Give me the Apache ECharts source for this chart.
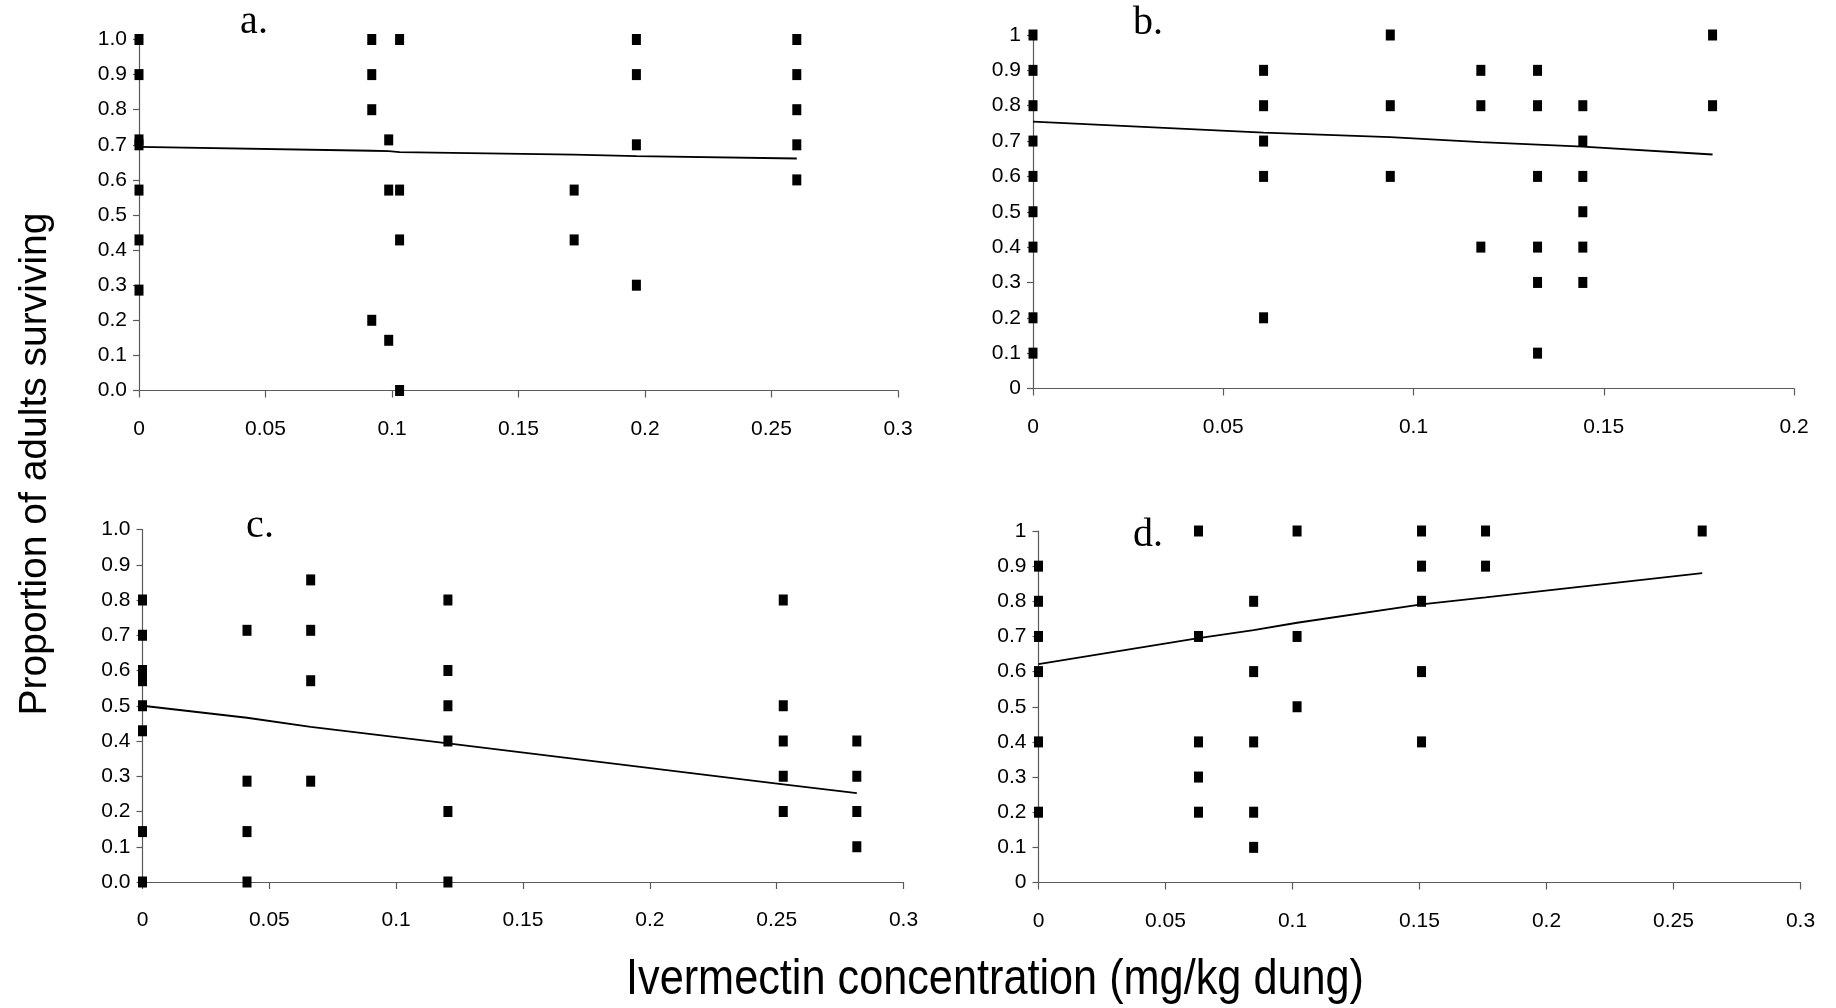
<!DOCTYPE html>
<html>
<head>
<meta charset="utf-8">
<script src="https://cdn.jsdelivr.net/npm/echarts@6/dist/echarts.min.js"></script>
<style>
  html, body { margin: 0; padding: 0; background: #fff; }
  #chart { width: 1836px; height: 1008px; }
</style>
</head>
<body>
<div id="chart"></div>
<script>
// 各面板的数据：浓度(x) 与 存活比例(y)
var concA = [0, 0, 0, 0, 0, 0, 0, 0.092, 0.092, 0.092, 0.092, 0.0987, 0.0987, 0.0987, 0.103, 0.103, 0.103, 0.103, 0.172, 0.172, 0.1966, 0.1966, 0.1966, 0.1966, 0.26, 0.26, 0.26, 0.26, 0.26];
var survA = [1.0, 0.9, 0.714, 0.70, 0.571, 0.429, 0.286, 1.0, 0.9, 0.8, 0.2, 0.714, 0.571, 0.143, 1.0, 0.571, 0.429, 0.0, 0.571, 0.429, 1.0, 0.9, 0.7, 0.3, 1.0, 0.9, 0.8, 0.7, 0.6];
var fitXA = [0, 0.092, 0.0987, 0.103, 0.172, 0.1966, 0.26];
var fitYA = [0.694, 0.683, 0.682, 0.679, 0.672, 0.668, 0.661];

var concB = [0, 0, 0, 0, 0, 0, 0, 0, 0, 0.0606, 0.0606, 0.0606, 0.0606, 0.0606, 0.0939, 0.0939, 0.0939, 0.1177, 0.1177, 0.1177, 0.1326, 0.1326, 0.1326, 0.1326, 0.1326, 0.1326, 0.1445, 0.1445, 0.1445, 0.1445, 0.1445, 0.1445, 0.1786, 0.1786];
var survB = [1, 0.9, 0.8, 0.7, 0.6, 0.5, 0.4, 0.2, 0.1, 0.9, 0.8, 0.7, 0.6, 0.2, 1, 0.8, 0.6, 0.9, 0.8, 0.4, 0.9, 0.8, 0.6, 0.4, 0.3, 0.1, 0.8, 0.7, 0.6, 0.5, 0.4, 0.3, 1, 0.8];
var fitXB = [0, 0.0606, 0.0939, 0.1177, 0.1326, 0.1445, 0.1786];
var fitYB = [0.755, 0.724, 0.711, 0.697, 0.690, 0.684, 0.662];

var concC = [0, 0, 0, 0, 0, 0, 0, 0, 0.0412, 0.0412, 0.0412, 0.0412, 0.0663, 0.0663, 0.0663, 0.0663, 0.1204, 0.1204, 0.1204, 0.1204, 0.1204, 0.1204, 0.2526, 0.2526, 0.2526, 0.2526, 0.2526, 0.2816, 0.2816, 0.2816, 0.2816];
var survC = [0.8, 0.7, 0.6, 0.571, 0.5, 0.429, 0.143, 0.0, 0.714, 0.286, 0.143, 0.0, 0.857, 0.714, 0.571, 0.286, 0.8, 0.6, 0.5, 0.4, 0.2, 0.0, 0.8, 0.5, 0.4, 0.3, 0.2, 0.4, 0.3, 0.2, 0.1];
var fitXC = [0, 0.0412, 0.0663, 0.1204, 0.2526, 0.2816];
var fitYC = [0.500, 0.466, 0.440, 0.393, 0.277, 0.252];

var concD = [0, 0, 0, 0, 0, 0, 0.063, 0.063, 0.063, 0.063, 0.063, 0.0847, 0.0847, 0.0847, 0.0847, 0.0847, 0.1018, 0.1018, 0.1018, 0.1508, 0.1508, 0.1508, 0.1508, 0.1508, 0.176, 0.176, 0.2613];
var survD = [0.9, 0.8, 0.7, 0.6, 0.4, 0.2, 1, 0.7, 0.4, 0.3, 0.2, 0.8, 0.6, 0.4, 0.2, 0.1, 1, 0.7, 0.5, 1, 0.9, 0.8, 0.6, 0.4, 1, 0.9, 1];
var fitXD = [0, 0.063, 0.0847, 0.1018, 0.1508, 0.176, 0.2613];
var fitYD = [0.621, 0.695, 0.718, 0.739, 0.791, 0.811, 0.880];

var panelLetters = ['a.', 'b.', 'c.', 'd.'];
var xMaxes = [0.3, 0.2, 0.3, 0.3];
var yOneDecimal = [true, false, true, false];

function zip(xs, ys) {
    return xs.map(function (x, i) { return [x, ys[i]]; });
}

var myChart = echarts.init(document.getElementById('chart'));

var grids = [
    { left: 139, top: 39.5, width: 759, height: 351 },
    { left: 1033, top: 35, width: 761, height: 353.5 },
    { left: 142.5, top: 529.5, width: 761, height: 352.5 },
    { left: 1038.5, top: 531, width: 762, height: 351.5 }
];

var axisColor = '#5a5a5a';
var labelFont = { color: '#000', fontFamily: 'Liberation Sans, Arial', fontSize: 21 };

var xAxes = grids.map(function (g, i) {
    return {
        type: 'value', gridIndex: i, min: 0, max: xMaxes[i], interval: 0.05,
        splitLine: { show: false },
        axisLine: { lineStyle: { color: axisColor, width: 1.2 } },
        axisTick: { length: 7, lineStyle: { color: axisColor, width: 1.2 } },
        axisLabel: Object.assign({ margin: 28 }, labelFont)
    };
});
var yAxes = grids.map(function (g, i) {
    return {
        type: 'value', gridIndex: i, min: 0, max: 1, interval: 0.1,
        splitLine: { show: false },
        axisLine: { show: true, lineStyle: { color: axisColor, width: 1.2 } },
        axisTick: { show: true, length: 6, lineStyle: { color: axisColor, width: 1.2 } },
        axisLabel: Object.assign({
            margin: 12,
            formatter: function (v) {
                return yOneDecimal[i] ? v.toFixed(1) : String(+v.toFixed(1));
            }
        }, labelFont)
    };
});

var pointSets = [zip(concA, survA), zip(concB, survB), zip(concC, survC), zip(concD, survD)];
var fitSets = [zip(fitXA, fitYA), zip(fitXB, fitYB), zip(fitXC, fitYC), zip(fitXD, fitYD)];

var series = [];
pointSets.forEach(function (pts, i) {
    series.push({
        type: 'scatter', xAxisIndex: i, yAxisIndex: i, data: pts,
        symbol: 'rect', symbolSize: [9, 11],
        itemStyle: { color: '#000', opacity: 1 }, clip: false, z: 3
    });
    series.push({
        type: 'line', xAxisIndex: i, yAxisIndex: i, data: fitSets[i],
        showSymbol: false, lineStyle: { color: '#000', width: 1.8 }, z: 2
    });
});

// 面板字母和轴标题
var letterPos = [[254, 22], [1148, 23], [260, 526], [1148, 535]];
var graphics = letterPos.map(function (p, i) {
    return {
        type: 'text', x: p[0], y: p[1],
        style: {
            text: panelLetters[i], fill: '#000',
            font: '40px "Liberation Serif", "Times New Roman", serif',
            textAlign: 'center', textVerticalAlign: 'middle'
        }
    };
});
graphics.push({
    type: 'text', x: 35, y: 464, rotation: Math.PI / 2,
    style: {
        text: 'Proportion of adults surviving', fill: '#000',
        font: '39px "Liberation Sans", Arial, sans-serif',
        textAlign: 'center', textVerticalAlign: 'middle'
    }
});
graphics.push({
    type: 'text', x: 995, y: 980, scaleX: 0.865,
    style: {
        text: 'Ivermectin concentration (mg/kg dung)', fill: '#000',
        font: '50px "Liberation Sans", Arial, sans-serif',
        textAlign: 'center', textVerticalAlign: 'middle'
    }
});

var option = {
    backgroundColor: '#fff',
    animation: false,
    grid: grids,
    xAxis: xAxes,
    yAxis: yAxes,
    series: series,
    graphic: graphics
};

option && myChart.setOption(option);
</script>
</body>
</html>
